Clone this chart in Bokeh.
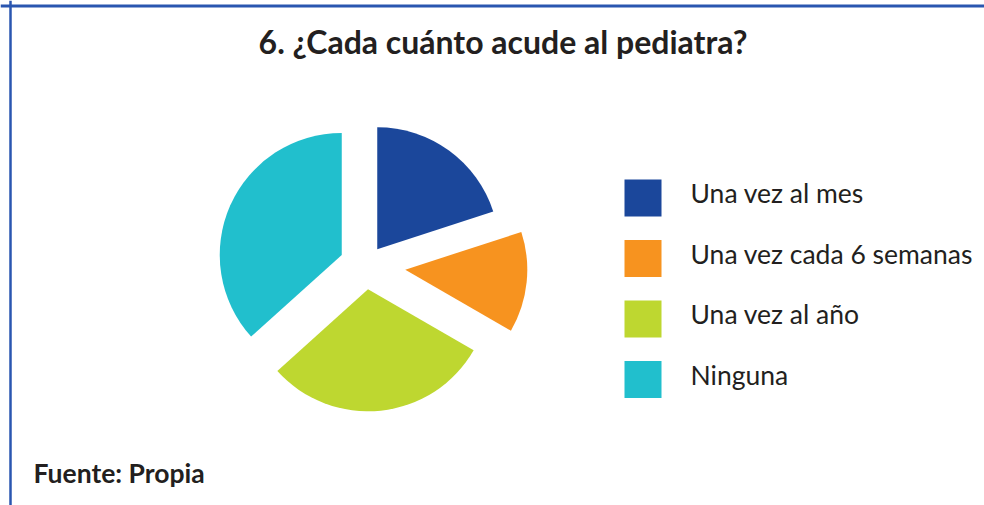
import math
from bokeh.plotting import figure
from bokeh.models import Range1d, Span, Label
from bokeh.core.properties import value
from bokeh.embed import file_html
from bokeh.resources import INLINE

# ---- data ----
title_text = "6. ¿Cada cuánto acude al pediatra?"
source_text = "Fuente: Propia"
categories = ["Una vez al mes", "Una vez cada 6 semanas", "Una vez al año", "Ninguna"]
counts = [6, 4, 9, 11]
colors = ["#1B479B", "#F7931F", "#BED730", "#21BFCD"]
explode = [20, 40, 24, 26]  # px offset of each slice (style)

W, H = 984, 505  # data y = H - screen y

p = figure(width=W, height=H, output_backend="svg", toolbar_location=None,
           x_range=Range1d(0, W), y_range=Range1d(0, H), min_border=0)
p.axis.visible = False
p.grid.visible = False
p.outline_line_color = None
p.background_fill_color = "white"

# frame lines
p.add_layout(Span(location=H - 5.5, dimension="width", line_color="#2A56B0", line_width=3))
p.add_layout(Span(location=10, dimension="height", line_color="#2A56B0", line_width=2.5))

# ---- pie ----
cx, cy, r = 365, H - 265, 122
total = sum(counts)
acc = 0.0
for c, col, d in zip(counts, colors, explode):
    a0 = acc / total * 360
    a1 = (acc + c) / total * 360
    acc += c
    start = math.radians(90 - a1)
    end = math.radians(90 - a0)
    mid = (start + end) / 2
    x = cx + d * math.cos(mid)
    y = cy + d * math.sin(mid)
    p.wedge(x=[x], y=[y], radius=r, start_angle=[start], end_angle=[end],
            fill_color=col, line_color=None)

# ---- legend ----
lx, ly0, step, sz = 624, 179, 60.5, 37
for i, (cat, col) in enumerate(zip(categories, colors)):
    top = ly0 + i * step
    p.rect(x=[lx + sz / 2], y=[H - (top + sz / 2)], width=sz, height=sz,
           fill_color=col, line_color=None)
    p.text(x=[690], y=[H - (top + 13.5)], text=[cat], text_font=value("Lato"),
           text_font_size="26.5px", text_color="#231F20", text_baseline="alphabetic",
           text_align="left")

# ---- title and source ----
p.add_layout(Label(x=502.5, y=H - 41, text=title_text, text_font="Lato",
                   text_font_style="bold", text_font_size="32px", text_color="#231F20",
                   text_align="center", text_baseline="alphabetic"))
p.add_layout(Label(x=33, y=H - 472, text=source_text, text_font="Lato",
                   text_font_style="bold", text_font_size="26.5px", text_color="#231F20",
                   text_align="left", text_baseline="alphabetic"))

open("out.html", "w").write(file_html(p, INLINE))
